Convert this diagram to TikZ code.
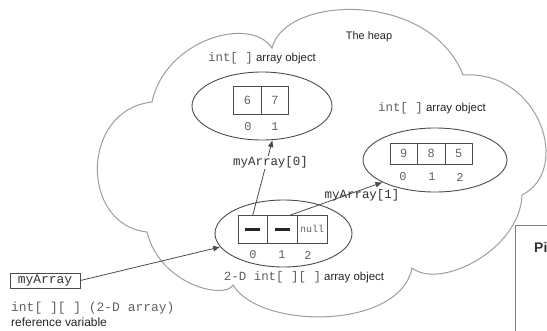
\documentclass[tikz,border=0pt]{standalone}
\usepackage{fontspec}
\setmainfont{Liberation Sans}
\setmonofont{Liberation Mono}
\usepackage{tikz}
\usetikzlibrary{shapes.geometric}
\usetikzlibrary{positioning}
\usetikzlibrary{arrows.meta}
\definecolor{cloudgray}{gray}{0.62}
\definecolor{linegray}{gray}{0.3}
\definecolor{textgray}{gray}{0.38}
\newcommand{\fsz}[1]{\fontsize{#1}{#1}\selectfont}
\tikzset{
  cell/.style={draw=linegray, line width=0.8bp, inner sep=0pt, outer sep=0pt,
    minimum width=27.5bp, minimum height=28bp, text=textgray, font=\fsz{12}},
  idx/.style={inner sep=0pt, text=textgray, font=\ttfamily\fsz{12}},
  obj/.style={ellipse, draw=linegray, line width=0.9bp, inner sep=0pt},
  ptr/.style={draw=linegray, line width=0.8bp, -{Latex[length=7bp,width=6bp]}},
  tag/.style={inner sep=0pt, text=black!85, font=\fsz{11.5}},
  reflabel/.style={inner sep=1bp, text=black!80, font=\ttfamily\fsz{12.5}}
}
\newcommand{\jtype}[1]{{\ttfamily\fsz{12.5}\color{textgray}#1}}
\begin{document}
\begin{tikzpicture}[x=1bp,y=-1bp]
    \useasboundingbox (0,0) rectangle (547,330);
    \fill[white] (0,0) rectangle (547,330);
    \draw[cloudgray, line width=1bp] (152,102) .. controls (165,40) and (250,15) .. (272,48)
      .. controls (285,-5) and (430,-10) .. (463,75)
      .. controls (540,70) and (572,170) .. (522,195)
      .. controls (520,250) and (440,290) .. (412,268)
      .. controls (400,330) and (260,330) .. (233,285)
      .. controls (225,300) and (160,285) .. (147,232)
      .. controls (80,225) and (80,110) .. cycle;
    \node[tag, font=\fsz{11}] (heap) at (369,37) {The heap};

    \node[obj, minimum width=140bp, minimum height=68bp] (arrA) at (262,106) {};
    \node[cell] (a0) at (247.5,100) {6};
    \node[cell, right=0pt of a0] (a1) {7};
    \node[idx] (ia0) at (248,127) {0};
    \node[idx] (ia1) at (275,127) {1};
    \node[tag] (labA) at (262,58) {\jtype{int[ ]} array object};

    \node[obj, minimum width=144bp, minimum height=64bp] (arrB) at (435,160) {};
    \node[cell, minimum height=21bp] (b0) at (403.7,153.5) {9};
    \node[cell, minimum height=21bp, right=0pt of b0] (b1) {8};
    \node[cell, minimum height=21bp, right=0pt of b1] (b2) {5};
    \node[idx] (ib0) at (403,177) {0};
    \node[idx] (ib1) at (432,177) {1};
    \node[idx] (ib2) at (460,177) {2};
    \node[tag] (labB) at (432,108) {\jtype{int[ ]} array object};

    \node[obj, minimum width=137bp, minimum height=67bp] (twoD) at (283.5,233.5) {};
    \node[cell, minimum width=29.7bp] (c0) at (252.8,229) {\color{black!85}\rule{15bp}{3bp}};
    \node[cell, minimum width=29.7bp, right=0pt of c0] (c1) {\color{black!85}\rule{15bp}{3bp}};
    \node[cell, minimum width=29.7bp, right=0pt of c1, font=\ttfamily\fsz{10}] (c2) {null};
    \node[idx] (ic0) at (253,255) {0};
    \node[idx] (ic1) at (282,255) {1};
    \node[idx] (ic2) at (308,255) {2};
    \node[tag] (labC) at (304,277) {\jtype{2-D int[ ][ ]} array object};

    \node[draw=linegray, line width=0.8bp, minimum width=70bp, minimum height=15bp, inner sep=0pt,
      text=black!80, font=\ttfamily\fsz{13}] (myArray) at (45,280.5) {myArray};
    \node[anchor=west, inner sep=0pt, text=textgray, font=\ttfamily\fsz{13}] (refType) at (11,308) {int[ ][ ] (2-D array)};
    \node[anchor=west, inner sep=0pt, text=black!85, font=\fsz{12}] (refVar) at (11,322) {reference variable};

    \draw[ptr] (myArray.east) -- (twoD.192);
    \draw[ptr] (c0.north) -- node[reflabel, fill=white, pos=0.7, xshift=4bp] (lab0) {myArray[0]} (arrA.287);
    \draw[ptr] (c1.60) -- (arrB.203);
    \node[reflabel] (lab1) at (362,195) {myArray[1]};

    \node[draw=gray, line width=1.2bp, anchor=north west, minimum width=100bp, minimum height=120bp] (panel) at (515,225) {};
    \node[anchor=west, inner sep=0pt, text=black!80, font=\bfseries\fsz{14}] (panelTitle) at (534,247) {Pi};
  \end{tikzpicture}
\end{document}
